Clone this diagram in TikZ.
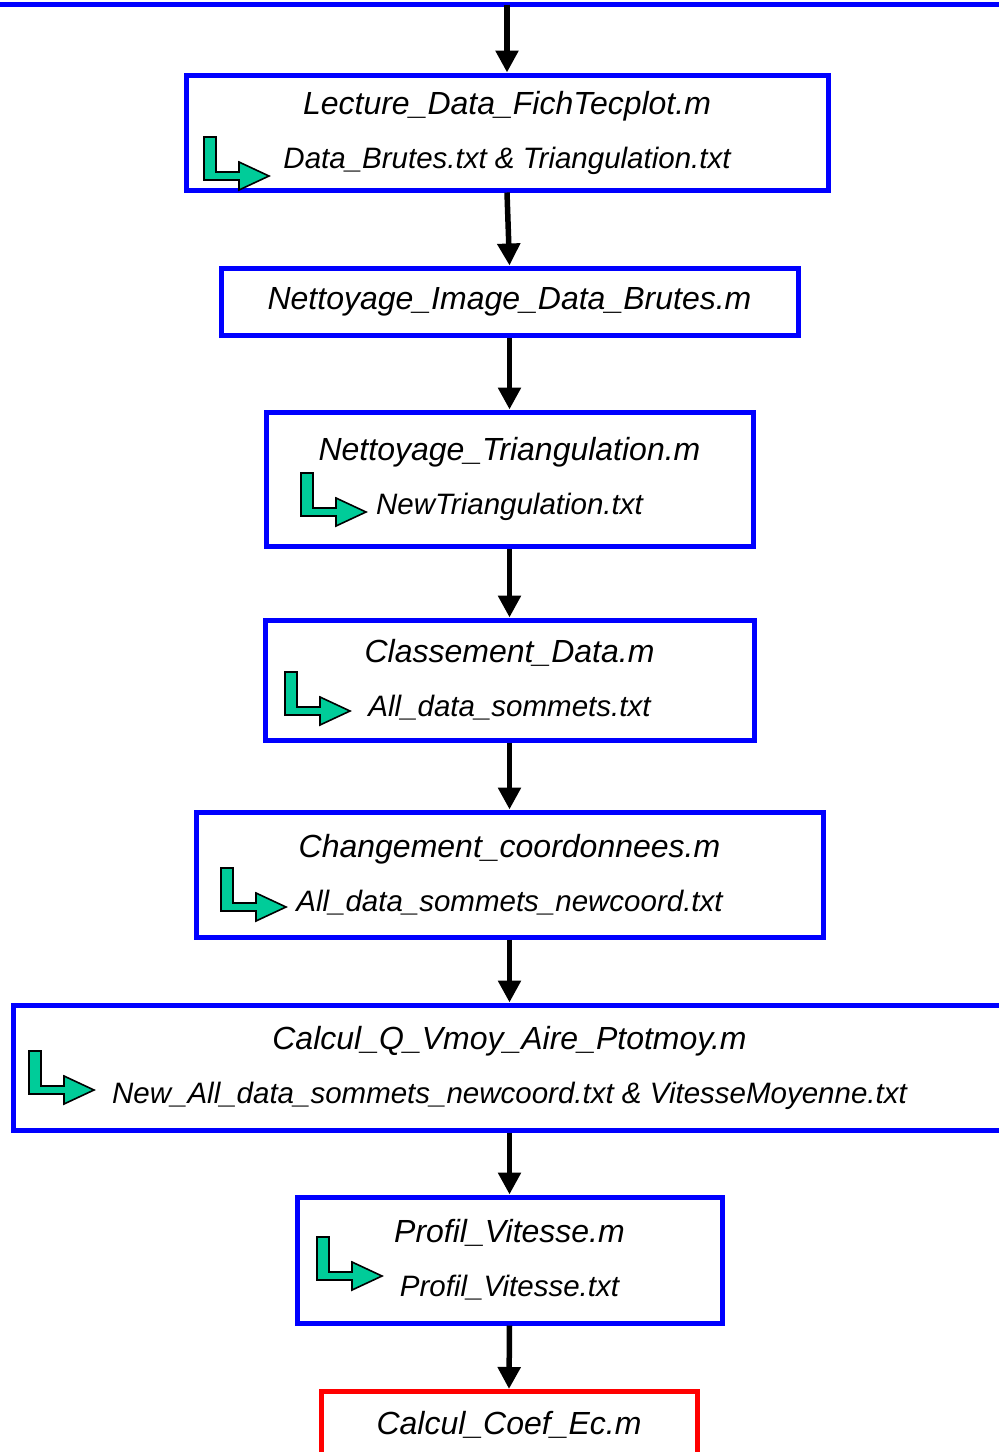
\documentclass[tikz,border=0pt]{standalone}
\usepackage{fontspec}
\setmainfont{Liberation Sans}
\usetikzlibrary{arrows.meta, positioning}

\definecolor{progblue}{RGB}{0,0,255}
\definecolor{progred}{RGB}{255,0,0}
\definecolor{outgreen}{RGB}{0,204,153}

\newcommand{\mfile}{\fontsize{32}{54}\selectfont\itshape}
\newcommand{\txtfile}{\fontsize{29.5}{54}\selectfont\itshape}

\begin{document}
\begin{tikzpicture}[x=1pt, y=1pt,
  prog/.style={rectangle, draw=progblue, line width=5pt, align=center, inner sep=0pt, font=\mfile},
  flow/.style={-{Triangle[width=22pt,length=22pt]}, line width=5.5pt},
  outarrow/.pic={\draw[fill=outgreen, line width=1.6pt, line join=miter]
    (0,0) -- (12,0) -- (12,-35) -- (35,-35) -- (35,-25) -- (65,-39) -- (35,-53) -- (35,-43) -- (0,-43) -- cycle;}
]
  \useasboundingbox (0,0) rectangle (999,-1452);
  \clip (0,0) rectangle (999,-1452);

  % bottom edge of the previous step
  \coordinate (tl) at (-10,-4.5);
  \coordinate (tr) at (1010,-4.5);
  \draw[progblue, line width=5pt] (tl) -- (tr);

  \node[prog, minimum width=642pt, minimum height=115pt] (lect) at (507,-132.5)
    {Lecture\_Data\_FichTecplot.m\\ {\txtfile Data\_Brutes.txt \& Triangulation.txt}};
  \node[prog, minimum width=577pt, minimum height=67pt] (netim) at (509.5,-301.5)
    {Nettoyage\_Image\_Data\_Brutes.m};
  \node[prog, minimum width=487pt, minimum height=134pt] (ntri) at (509.5,-479)
    {Nettoyage\_Triangulation.m\\ {\txtfile NewTriangulation.txt}};
  \node[prog, minimum width=489pt, minimum height=120pt] (classt) at (509.5,-680)
    {Classement\_Data.m\\ {\txtfile All\_data\_sommets.txt}};
  \node[prog, minimum width=627pt, minimum height=125pt] (chgt) at (509.5,-874.5)
    {Changement\_coordonnees.m\\ {\txtfile All\_data\_sommets\_newcoord.txt}};
  \node[prog, minimum width=993pt, minimum height=125pt] (calq) at (509.5,-1067.5)
    {Calcul\_Q\_Vmoy\_Aire\_Ptotmoy.m\\ {\txtfile New\_All\_data\_sommets\_newcoord.txt \& VitesseMoyenne.txt}};
  \node[prog, minimum width=425pt, minimum height=126pt] (prof) at (509.5,-1260)
    {Profil\_Vitesse.m\\ {\txtfile Profil\_Vitesse.txt}};
  \node[prog, draw=progred, anchor=north, minimum width=376pt, inner ysep=20pt, text depth=100pt] (coef) at (509,-1389)
    {Calcul\_Coef\_Ec.m};

  % output files
  \pic (o1) at (204,-137) {outarrow};
  \pic (o2) at (301,-473) {outarrow};
  \pic (o3) at (285,-672) {outarrow};
  \pic (o4) at (221,-868) {outarrow};
  \pic (o5) at (29,-1051) {outarrow};
  \pic (o6) at (317,-1237) {outarrow};

  \draw[flow] (lect.north |- tl) -- (lect.north);
  \draw[flow] (lect.south) -- (netim.north);
  \draw[flow] (netim.south) -- (ntri.north);
  \draw[flow] (ntri.south) -- (classt.north);
  \draw[flow] (classt.south) -- (chgt.north);
  \draw[flow] (chgt.south) -- (calq.north);
  \draw[flow] (calq.south) -- (prof.north);
  \draw[flow] (prof.south) -- (coef.north);
\end{tikzpicture}
\end{document}
